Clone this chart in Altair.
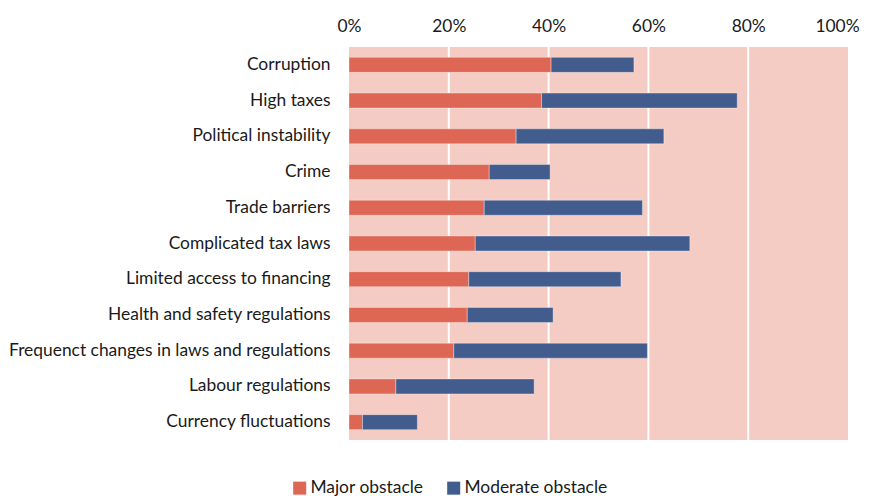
import altair as alt
import pandas as pd

categories = [
    "Corruption",
    "High taxes",
    "Political instability",
    "Crime",
    "Trade barriers",
    "Complicated tax laws",
    "Limited access to financing",
    "Health and safety regulations",
    "Frequenct changes in laws and regulations",
    "Labour regulations",
    "Currency fluctuations",
]
major = [0.405, 0.386, 0.335, 0.281, 0.271, 0.253, 0.240, 0.237, 0.210, 0.094, 0.027]
total = [0.571, 0.778, 0.631, 0.403, 0.588, 0.683, 0.545, 0.409, 0.598, 0.371, 0.137]
moderate = [round(t - m, 3) for t, m in zip(total, major)]
series = ["Major obstacle", "Moderate obstacle"]
colors = ["#DD6655", "#425C8E"]
grid_values = [0.2, 0.4, 0.6, 0.8]
tick_values = [0, 0.2, 0.4, 0.6, 0.8, 1.0]

rows = []
for c, m, d in zip(categories, major, moderate):
    rows.append({"category": c, "series": series[0], "value": m, "order": 0})
    rows.append({"category": c, "series": series[1], "value": d, "order": 1})
df = pd.DataFrame(rows)
grid_df = pd.DataFrame({"x": grid_values})

FONT = "Lato"
FS = 17.4
TXT = "#1a1a1a"

x_scale = alt.Scale(domain=[0, 1], nice=False)
x_axis = alt.Axis(
    orient="top", format="%", values=tick_values,
    title=None, ticks=False, domain=False, grid=False, labelPadding=12,
    labelFont=FONT, labelFontSize=FS, labelColor=TXT, labelFlush=False,
    labelOffset={"condition": {"test": "datum.value == 1", "value": -11}, "value": 0},
)

grid = alt.Chart(grid_df).mark_rule(color="white", strokeWidth=2).encode(
    x=alt.X("x:Q", scale=x_scale, axis=x_axis, title=None)
)

bars = alt.Chart(df).mark_bar(stroke="#ffffff", strokeOpacity=0.35, strokeWidth=1).encode(
    y=alt.Y(
        "category:N",
        sort=categories,
        scale=alt.Scale(paddingInner=0.58, paddingOuter=0.29),
        axis=alt.Axis(
            title=None, ticks=False, domain=False, labelPadding=19,
            labelFont=FONT, labelFontSize=FS, labelColor=TXT, labelLimit=400,
        ),
    ),
    x=alt.X("value:Q", stack="zero", scale=x_scale, axis=x_axis, title=None),
    color=alt.Color(
        "series:N",
        scale=alt.Scale(domain=series, range=colors),
        legend=alt.Legend(
            title=None, orient="none", direction="horizontal",
            legendX=-58, legendY=432, symbolType="square", symbolSize=170,
            symbolStrokeWidth=0, labelFont=FONT, labelFontSize=FS,
            labelColor=TXT, columnPadding=21, labelOffset=2,
        ),
    ),
    order=alt.Order("order:Q"),
)

chart = alt.layer(grid, bars).properties(
    width=499,
    height=393,
    autosize=alt.AutoSizeParams(type="none"),
    padding={"left": 341, "top": 39, "right": 14, "bottom": 56},
    background="white",
).configure_view(fill="#F4CCC3", stroke=None)

chart.save("out.html", embed_options={"renderer": "svg", "actions": False})
